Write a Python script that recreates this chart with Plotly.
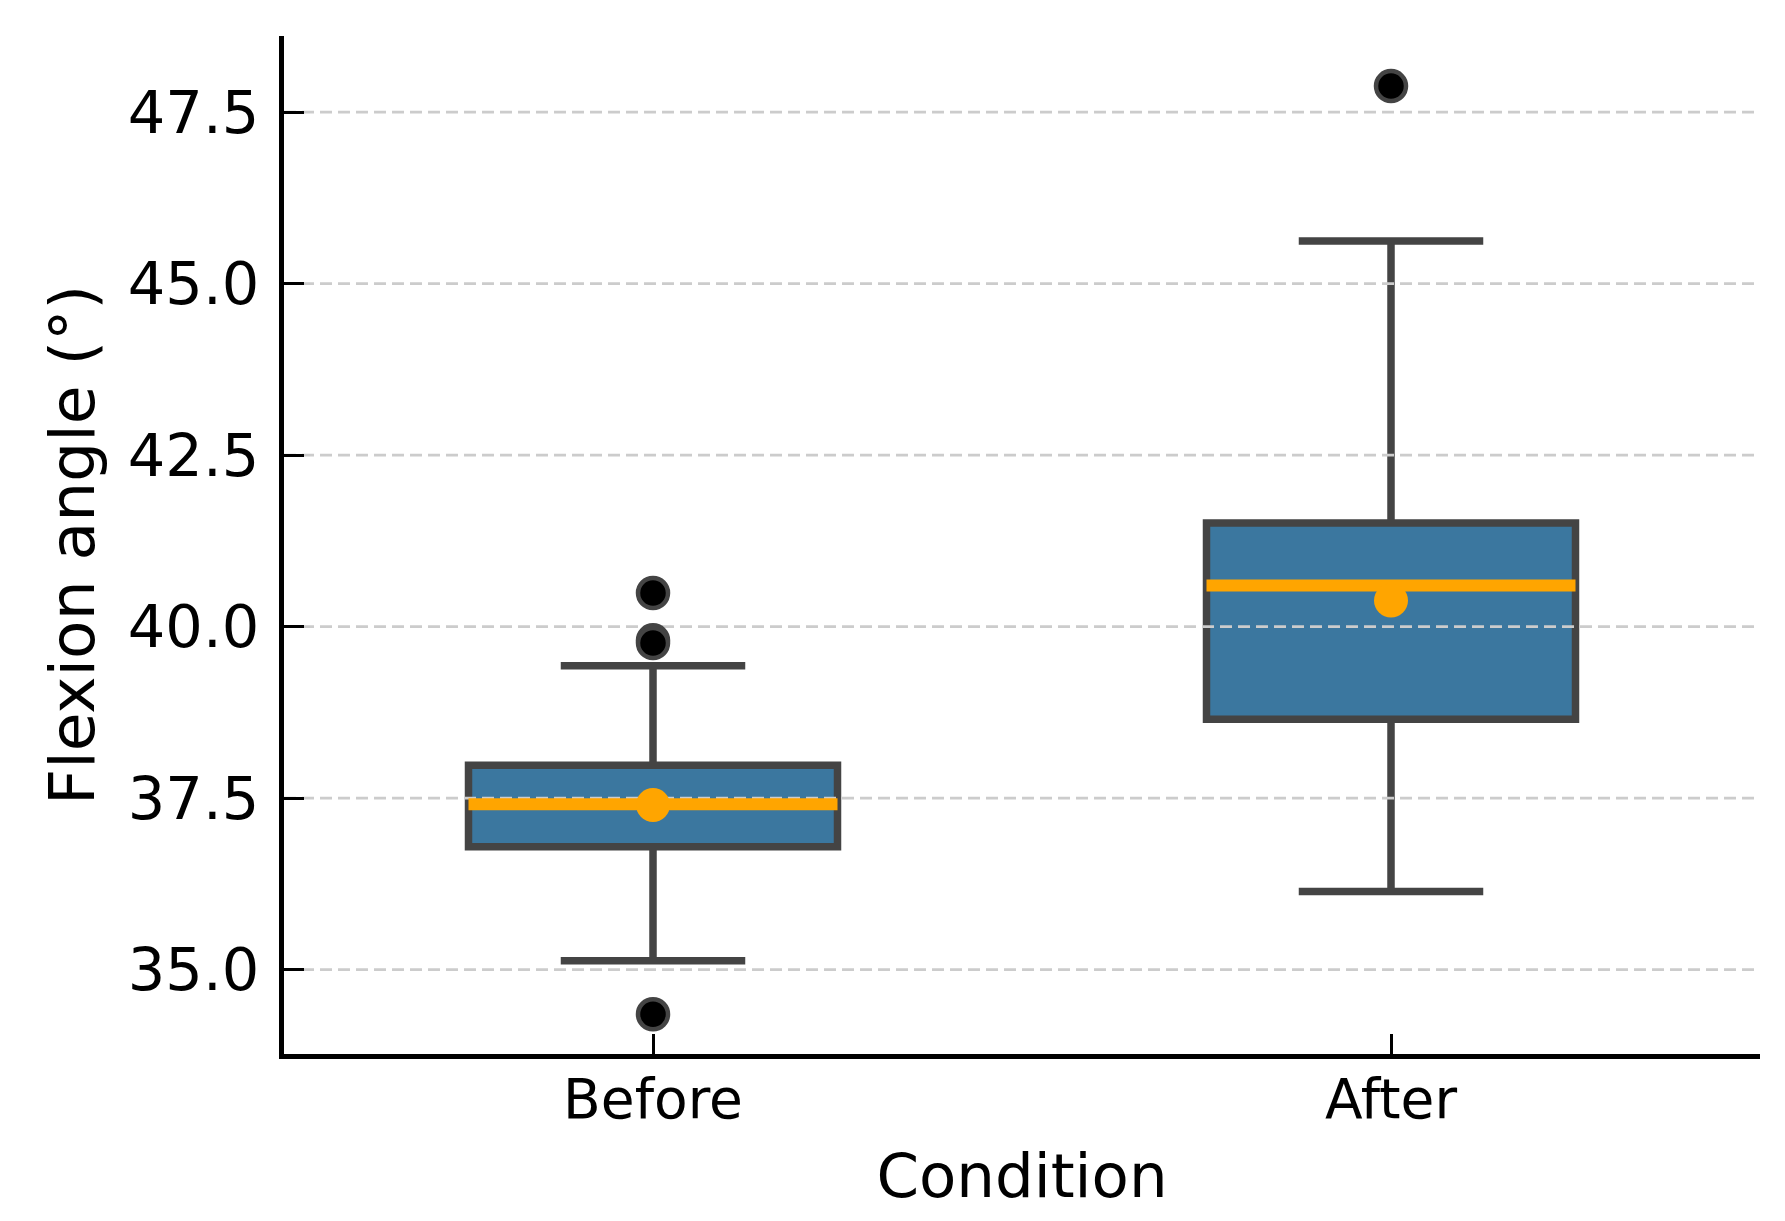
import plotly.graph_objects as go

categories = ["Before", "After"]
positions = [0, 1]
q1 = [36.79, 38.65]
median = [37.41, 40.60]
q3 = [37.98, 41.51]
lower_whisker = [35.13, 36.14]
upper_whisker = [39.43, 45.62]
means = [37.40, 40.38]
outliers_before = [40.49, 39.80, 39.76, 34.35]
outliers_after = [47.88]

y_ticks = [35.0, 37.5, 40.0, 42.5, 45.0, 47.5]
y_tick_labels = ["35.0", "37.5", "40.0", "42.5", "45.0", "47.5"]

X_RANGE = [-0.5, 1.5]
Y_RANGE = [33.77, 48.61]
BOX_WIDTH = 0.5
EDGE = "#444444"
FILL = "#3b779f"
ORANGE = "#ffa500"
GRID = "#cccccc"
FONT = "DejaVu Sans"

fig = go.Figure()

for i, pos in enumerate(positions):
    fig.add_trace(go.Box(
        x=[pos], q1=[q1[i]], median=[median[i]], q3=[q3[i]],
        lowerfence=[lower_whisker[i]], upperfence=[upper_whisker[i]],
        width=BOX_WIDTH, whiskerwidth=0.5,
        fillcolor=FILL, line=dict(color=EDGE, width=7.5),
        boxpoints=False, showlegend=False, hoverinfo="skip",
    ))

# dashed horizontal grid drawn above the box bodies (matplotlib-like layering)
gx, gy = [], []
for t in y_ticks:
    gx += [X_RANGE[0], X_RANGE[1], None]
    gy += [t, t, None]
fig.add_trace(go.Scatter(
    x=gx, y=gy, mode="lines",
    line=dict(color=GRID, width=2.8, dash="12px,6px"),
    showlegend=False, hoverinfo="skip", cliponaxis=True,
))

# median lines
for i, pos in enumerate(positions):
    fig.add_trace(go.Scatter(
        x=[pos - BOX_WIDTH / 2, pos + BOX_WIDTH / 2], y=[median[i], median[i]],
        mode="lines", line=dict(color=ORANGE, width=12),
        showlegend=False, hoverinfo="skip",
    ))

# outliers
out_x = [positions[0]] * len(outliers_before) + [positions[1]] * len(outliers_after)
out_y = outliers_before + outliers_after
fig.add_trace(go.Scatter(
    x=out_x, y=out_y, mode="markers",
    marker=dict(color="black", size=30, line=dict(color=EDGE, width=4.5)),
    showlegend=False, hoverinfo="skip",
))

# means
fig.add_trace(go.Scatter(
    x=positions, y=means, mode="markers",
    marker=dict(color=ORANGE, size=34, line=dict(width=0)),
    showlegend=False, hoverinfo="skip",
))

fig.update_layout(
    width=1785, height=1221,
    margin=dict(l=276, r=33, t=28, b=175),
    paper_bgcolor="white", plot_bgcolor="white",
    font=dict(family=FONT, color="black"),
    showlegend=False,
)

fig.update_xaxes(
    range=X_RANGE, tickmode="array", tickvals=positions, ticktext=categories,
    showgrid=False, zeroline=False,
    showline=True, linecolor="black", linewidth=5,
    ticks="inside", ticklen=20, tickwidth=3, tickcolor="black",
    tickfont=dict(size=55, family=FONT), ticklabelstandoff=-7,
    title=dict(text="Condition", font=dict(size=61, family=FONT), standoff=26),
)

fig.update_yaxes(
    range=Y_RANGE, tickmode="array", tickvals=y_ticks, ticktext=y_tick_labels,
    showgrid=False, zeroline=False,
    showline=True, linecolor="black", linewidth=5,
    ticks="inside", ticklen=20, tickwidth=3, tickcolor="black",
    tickfont=dict(size=59, family=FONT), ticklabelstandoff=8,
    title=dict(text="Flexion angle (°)", font=dict(size=63, family=FONT), standoff=14),
)

fig.write_html("out.html")
